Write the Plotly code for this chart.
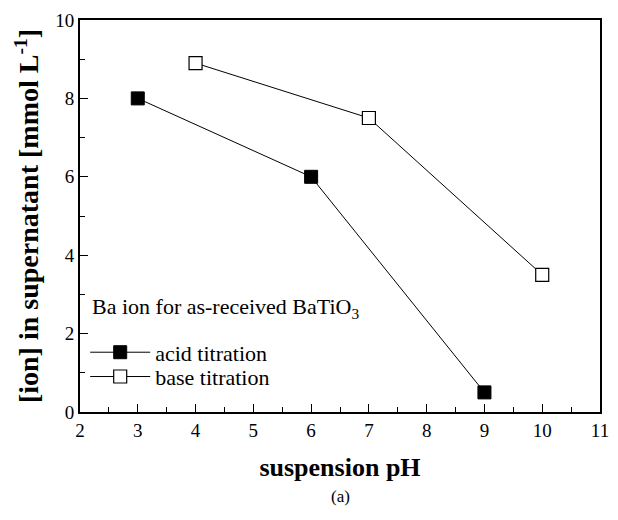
import plotly.graph_objects as go

acid_ph = [3, 6, 9]
acid_ion = [8.0, 6.0, 0.5]
base_ph = [4, 7, 10]
base_ion = [8.9, 7.5, 3.5]

x_ticks = [2, 3, 4, 5, 6, 7, 8, 9, 10, 11]
y_ticks = [0, 2, 4, 6, 8, 10]

FONT = "Times New Roman"

fig = go.Figure()
fig.add_trace(go.Scatter(
    x=acid_ph, y=acid_ion, mode="lines+markers", name="acid titration",
    line=dict(color="black", width=1), legend="legend",
    marker=dict(symbol="square", size=13, color="black", line=dict(color="black", width=1)),
))
fig.add_trace(go.Scatter(
    x=base_ph, y=base_ion, mode="lines+markers", name="base titration",
    line=dict(color="black", width=1), legend="legend2",
    marker=dict(symbol="square", size=13, color="white", line=dict(color="black", width=1.2)),
))

leg_common = dict(
    x=0.01, xanchor="left", yanchor="middle",
    bgcolor="rgba(0,0,0,0)", borderwidth=0,
    font=dict(family=FONT, size=22, color="black"),
    itemwidth=60,
)

fig.update_layout(
    width=618, height=520,
    margin=dict(l=80, r=9, t=20, b=108),
    paper_bgcolor="white", plot_bgcolor="white",
    font=dict(family=FONT, color="black", size=18),
    showlegend=True,
    legend=dict(y=0.152, **leg_common),
    legend2=dict(y=0.09, **leg_common),
    xaxis=dict(
        range=[2, 11], tickvals=x_ticks, ticktext=[str(v) for v in x_ticks],
        ticks="inside", ticklen=8, tickwidth=1.3, tickcolor="black",
        minor=dict(dtick=0.5, ticks="inside", ticklen=5, tickwidth=1.3, tickcolor="black"),
        showline=True, linecolor="black", linewidth=2, mirror=True,
        showgrid=False, zeroline=False,
        tickfont=dict(family=FONT, size=19),
        title=dict(text="<b>suspension pH</b>", font=dict(family=FONT, size=26), standoff=18),
    ),
    yaxis=dict(
        range=[0, 10], tickvals=y_ticks, ticktext=[str(v) for v in y_ticks],
        ticks="inside", ticklen=8, tickwidth=1.3, tickcolor="black",
        minor=dict(dtick=1, ticks="inside", ticklen=5, tickwidth=1.3, tickcolor="black"),
        showline=True, linecolor="black", linewidth=2, mirror=True,
        showgrid=False, zeroline=False,
        tickfont=dict(family=FONT, size=19),
        title=dict(text="<b>[ion] in supernatant [mmol L<sup>-1</sup>]</b>",
                   font=dict(family=FONT, size=28), standoff=8),
    ),
    annotations=[
        dict(
            text="Ba ion for as-received BaTiO<sub>3</sub>", xref="paper", yref="paper",
            x=0.02, y=0.265, xanchor="left", yanchor="middle", showarrow=False,
            font=dict(family=FONT, size=22, color="black"),
        ),
        dict(
            text="(a)", xref="paper", yref="paper", x=0.5, y=-0.215,
            xanchor="center", yanchor="middle", showarrow=False,
            font=dict(family=FONT, size=17, color="black"),
        ),
    ],
)

fig.write_html("out.html")
